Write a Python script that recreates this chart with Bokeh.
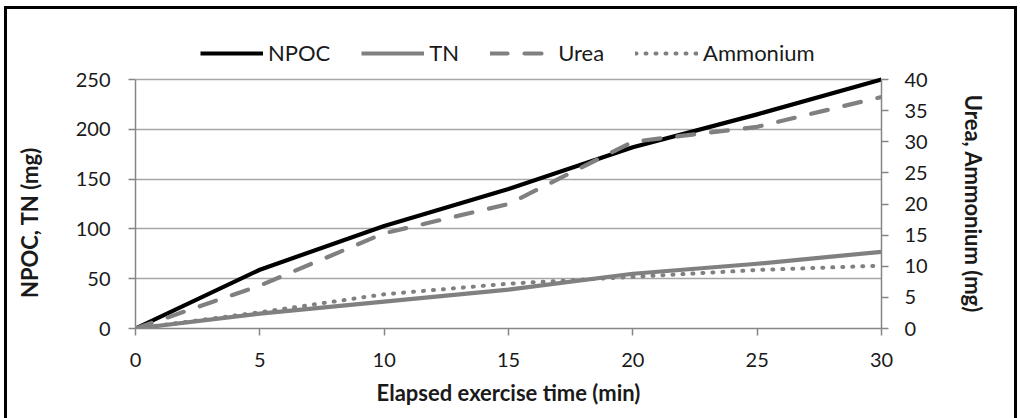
from bokeh.plotting import figure
from bokeh.models import (Range1d, LinearAxis, FixedTicker, Legend, LegendItem,
                          InlineStyleSheet)
from bokeh.embed import file_html
from bokeh.resources import INLINE

# ---- data ----
time_min = [0, 5, 10, 15, 20, 25, 30]
npoc = [0, 59, 103, 140, 182, 215, 250]
tn = [0, 15, 27, 39, 55, 65, 77]
urea = [0, 6.9, 15.3, 20.0, 30.0, 32.4, 37.2]
ammonium = [0, 2.6, 5.5, 7.2, 8.3, 9.4, 10.1]

x_ticks = [0, 5, 10, 15, 20, 25, 30]
left_ticks = [0, 50, 100, 150, 200, 250]
right_ticks = [0, 5, 10, 15, 20, 25, 30, 35, 40]
LEFT_MAX, RIGHT_MAX = 250, 40

FONT = "Lato"
AX_COL = "#868686"
GRAY = "#808080"
W, H = 1020, 418
FR_LEFT, FR_RIGHT, FR_TOP, FR_BOTTOM = 135, 881, 20, 328   # frame edges (px)
PX_PER_UNIT = (FR_BOTTOM - 79) / LEFT_MAX                    # 250 sits at y=79
top_left = LEFT_MAX + (79 - FR_TOP) / PX_PER_UNIT            # headroom for legend
top_right = top_left * RIGHT_MAX / LEFT_MAX

NB = "\u00a0"

p = figure(width=W, height=H, x_range=Range1d(0, 30),
           y_range=Range1d(0, top_left),
           output_backend="svg", toolbar_location=None,
           min_border_left=FR_LEFT, min_border_right=W - FR_RIGHT,
           min_border_top=FR_TOP, min_border_bottom=H - FR_BOTTOM)
p.outline_line_color = None
p.background_fill_color = "white"
p.border_fill_color = "white"
p.stylesheets = [InlineStyleSheet(css="""
:host::after {
  content: "";
  position: absolute;
  left: 4px; top: 6px; right: 3px; bottom: 0px;
  border: 3.5px solid black;
  border-bottom: none;
  z-index: 1000;
  pointer-events: none;
}
""")]

p.extra_y_ranges = {"right": Range1d(0, top_right)}

r_npoc = p.line(time_min, npoc, line_color="black", line_width=4.2, line_join="round")
r_tn = p.line(time_min, tn, line_color=GRAY, line_width=4.2, line_join="round")
r_urea = p.line(time_min, urea, y_range_name="right", line_color=GRAY, line_width=4.2,
                line_dash="17 17", line_cap="round", line_join="round")
r_amm = p.line(time_min, ammonium, y_range_name="right", line_color=GRAY, line_width=4,
               line_dash="1 9", line_cap="round", line_join="round")

# grids
p.xgrid.visible = False
p.ygrid.ticker = FixedTicker(ticks=left_ticks)
p.ygrid.grid_line_color = "#a6a6a6"
p.ygrid.grid_line_width = 1.5


def style_axis(ax):
    ax.axis_line_color = AX_COL
    ax.axis_line_width = 1.5
    ax.major_tick_line_color = AX_COL
    ax.major_tick_line_width = 1.5
    ax.major_tick_out = 7
    ax.major_tick_in = 0
    ax.minor_tick_line_color = None
    ax.major_label_text_font = FONT
    ax.major_label_text_font_size = "20px"
    ax.major_label_text_color = "#1a1a1a"
    ax.axis_label_text_font = FONT
    ax.axis_label_text_font_size = "22px"
    ax.axis_label_text_font_style = "bold"
    ax.axis_label_text_color = "#1a1a1a"


xa = p.xaxis[0]
xa.ticker = FixedTicker(ticks=x_ticks)
xa.axis_label = "Elapsed exercise time (min)"
style_axis(xa)
xa.major_label_standoff = 17
xa.axis_label_standoff = 9

ya = p.yaxis[0]
ya.ticker = FixedTicker(ticks=left_ticks)
# no-break space padding shifts the visible title down along the axis
ya.axis_label = "NPOC, TN (mg)" + NB * 18
ya.bounds = (0, LEFT_MAX)
style_axis(ya)
ya.major_label_standoff = 18
ya.axis_label_standoff = 30

ra = LinearAxis(y_range_name="right", ticker=FixedTicker(ticks=right_ticks),
                axis_label=NB * 11 + "Urea, Ammonium (mg)", bounds=(0, RIGHT_MAX))
style_axis(ra)
ra.major_label_standoff = 16
ra.axis_label_standoff = 29
p.add_layout(ra, "right")

legend = Legend(items=[
    LegendItem(label="NPOC", renderers=[r_npoc]),
    LegendItem(label="TN", renderers=[r_tn]),
    LegendItem(label="Urea", renderers=[r_urea]),
    LegendItem(label="Ammonium", renderers=[r_amm]),
], orientation="horizontal", location=(65, 262))
legend.border_line_color = None
legend.background_fill_alpha = 0
legend.label_text_font = FONT
legend.label_text_font_size = "22px"
legend.label_text_color = "#1a1a1a"
legend.glyph_width = 63
legend.glyph_height = 20
legend.label_standoff = 5
legend.spacing = 31
legend.padding = 4
legend.margin = 0
p.add_layout(legend, "center")

open("out.html", "w").write(file_html(p, INLINE))
